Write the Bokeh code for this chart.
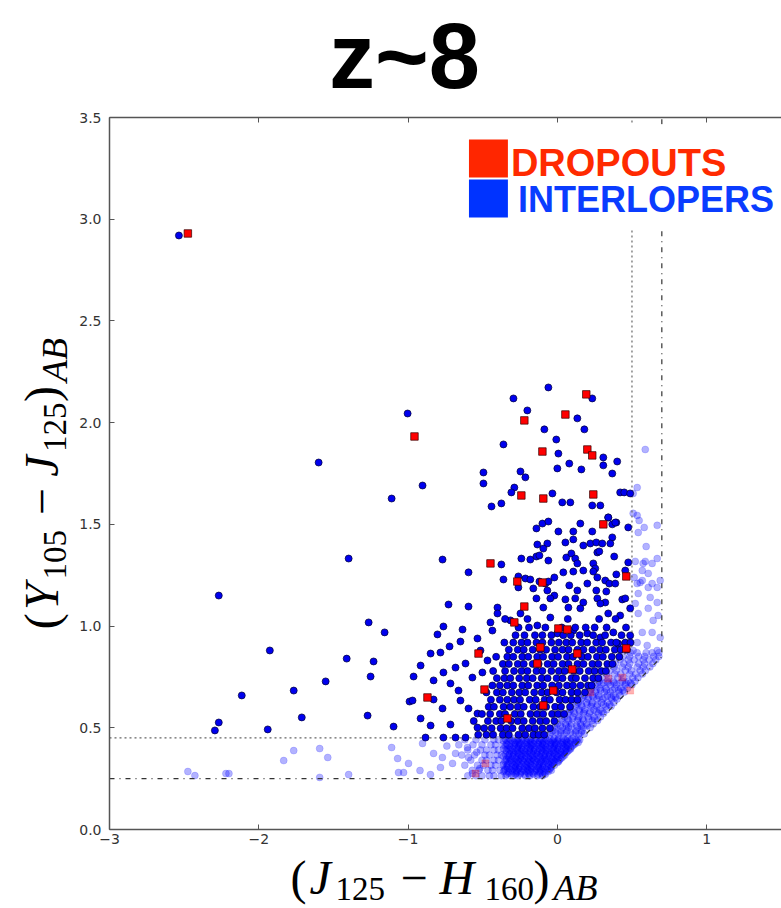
from bokeh.plotting import figure
from bokeh.models import Label, LinearAxis, BoxAnnotation, Range1d, CustomJSTickFormatter
from bokeh.layouts import column, row
from bokeh.embed import file_html
from bokeh.resources import INLINE

# ---------------- data ----------------
x_ticks = [-3, -2, -1, 0, 1]
y_ticks = [0.0, 0.5, 1.0, 1.5, 2.0, 2.5, 3.0, 3.5]

# selection boundaries
sel_x = [-3.0, -0.1, 0.5, 0.5]
sel_y = [0.45, 0.45, 0.9, 3.5]
wide_x = [-3.0, -0.1, 0.7, 0.7]
wide_y = [0.25, 0.25, 0.85, 3.5]

# selected interlopers: isolated points
inter_sparse = [(-2.535, 2.92), (-1.003, 2.045), (-1.599, 1.804), (-1.11, 1.627), (-0.903, 1.691),
                (-1.398, 1.332), (-2.268, 1.150), (-0.769, 1.327), (-1.264, 1.018), (-1.157, 0.969),
                (-1.926, 0.88), (-1.411, 0.84), (-1.231, 0.826), (-1.251, 0.752), (-1.552, 0.728),
                (-2.114, 0.659), (-1.766, 0.683), (-1.712, 0.551), (-1.271, 0.56), (-1.097, 0.506),
                (-0.99, 0.629), (-2.294, 0.487), (-2.268, 0.526), (-1.94, 0.492), (-0.595, 1.264)]
inter_upper = [(-0.06, 2.173), (-0.294, 2.119), (0.234, 2.119), (-0.201, 2.06), (0.134, 2.021),
               (-0.087, 1.967), (0.181, 1.967), (-0.007, 1.917), (-0.361, 1.893), (0.007, 1.848),
               (0.308, 1.829), (0.401, 1.809), (0.08, 1.799), (0.308, 1.79), (0.0, 1.775),
               (0.161, 1.77), (-0.495, 1.755), (-0.247, 1.76), (-0.214, 1.731), (0.368, 1.75),
               (-0.495, 1.701), (-0.288, 1.681), (-0.308, 1.657), (-0.033, 1.652), (0.421, 1.657),
               (0.448, 1.657), (0.488, 1.652), (-0.441, 1.588), (-0.375, 1.603), (0.033, 1.608),
               (0.087, 1.608), (0.234, 1.593), (0.288, 1.593), (0.341, 1.534), (0.395, 1.509),
               (0.368, 1.5)]
inter_mid = [(-0.14, 1.48), (-0.1, 1.504), (-0.06, 1.514), (0.007, 1.465), (0.107, 1.465),
             (0.154, 1.504), (0.234, 1.465), (0.341, 1.534), (0.388, 1.509), (0.368, 1.436),
             (0.475, 1.485), (-0.134, 1.401), (-0.067, 1.406), (0.054, 1.411), (0.107, 1.426),
             (0.174, 1.396), (0.221, 1.406), (0.261, 1.411), (0.301, 1.406), (0.355, 1.406),
             (-0.094, 1.381), (-0.241, 1.332), (-0.181, 1.327), (-0.14, 1.342), (-0.12, 1.347),
             (-0.06, 1.322), (0.06, 1.337), (0.094, 1.357), (0.12, 1.332), (0.134, 1.308),
             (0.174, 1.273), (0.241, 1.308), (0.254, 1.283), (0.268, 1.362), (0.281, 1.367),
             (0.381, 1.342), (0.475, 1.313), (-0.375, 1.303), (-0.361, 1.229), (-0.261, 1.244),
             (-0.214, 1.234), (-0.181, 1.229), (-0.12, 1.219), (-0.08, 1.209), (-0.06, 1.219),
             (-0.02, 1.239), (0.04, 1.264), (0.107, 1.268), (0.241, 1.268), (0.268, 1.239),
             (0.321, 1.224), (0.348, 1.209), (0.395, 1.254), (0.455, 1.273), (-0.261, 1.19),
             (-0.161, 1.185), (-0.067, 1.175), (-0.02, 1.15), (0.08, 1.2), (0.134, 1.175),
             (0.201, 1.209), (0.261, 1.175), (0.328, 1.17), (0.388, 1.209), (0.435, 1.131),
             (-0.595, 1.096), (-0.401, 1.091), (-0.14, 1.136), (-0.047, 1.136), (0.054, 1.131),
             (0.12, 1.136), (0.174, 1.116), (0.268, 1.136), (0.321, 1.116), (0.455, 1.136),
             (-0.729, 1.106), (-0.763, 0.998), (-0.635, 0.983), (-0.803, 0.959), (-0.722, 0.9),
             (-0.649, 0.924), (-0.849, 0.865), (-0.783, 0.87), (-0.916, 0.806), (-0.963, 0.752),
             (-0.763, 0.772), (-0.682, 0.796), (-0.615, 0.816), (-0.829, 0.733), (-0.716, 0.718),
             (-0.97, 0.634), (-0.829, 0.639), (-0.662, 0.683), (-0.769, 0.595), (-0.649, 0.634),
             (-0.595, 0.595), (-0.916, 0.546), (-0.849, 0.511), (-0.716, 0.516), (-0.883, 0.452),
             (-0.763, 0.452), (-0.682, 0.452), (-0.615, 0.452), (-0.535, 0.501), (-0.535, 0.570),
             (-0.569, 0.747), (-0.502, 0.772), (-0.468, 0.831), (-0.535, 0.939), (-0.515, 0.88),
             (-0.448, 1.018), (-0.435, 0.978), (-0.401, 1.062), (-0.314, 1.028), (-0.247, 1.062),
             (-0.134, 1.003), (-0.094, 1.091), (-0.047, 1.042), (0.074, 1.091), (0.154, 1.087),
             (0.288, 1.111), (0.341, 1.062), (0.421, 1.052), (0.488, 1.087), (0.0, 0.964),
             (0.107, 0.978), (0.201, 0.964), (0.288, 0.944), (0.375, 0.969), (0.408, 0.914),
             (0.488, 0.954)]
# dense core of selected interlopers, read row by row: (y, [x...])
inter_core_rows = [
    (0.466, [-0.53, -0.475, -0.43, -0.365, -0.325, -0.26, -0.215, -0.16, -0.125, -0.088]),
    (0.498, [-0.49, -0.44, -0.38, -0.34, -0.30, -0.235, -0.19, -0.15, -0.10, -0.05]),
    (0.533, [-0.56, -0.465, -0.41, -0.375, -0.31, -0.265, -0.225, -0.165, -0.115, -0.075, -0.02]),
    (0.568, [-0.505, -0.45, -0.385, -0.35, -0.285, -0.245, -0.18, -0.135, -0.095, -0.035, 0.005, 0.045]),
    (0.603, [-0.46, -0.425, -0.36, -0.315, -0.265, -0.225, -0.16, -0.115, -0.075, -0.015, 0.025, 0.085]),
    (0.638, [-0.445, -0.385, -0.335, -0.29, -0.25, -0.185, -0.145, -0.085, -0.05, 0.015, 0.055, 0.095, 0.135]),
    (0.674, [-0.475, -0.405, -0.365, -0.305, -0.255, -0.215, -0.155, -0.105, -0.065, -0.005, 0.035, 0.095, 0.135, 0.185]),
    (0.708, [-0.435, -0.385, -0.335, -0.295, -0.235, -0.195, -0.135, -0.095, -0.035, 0.01, 0.065, 0.105, 0.155, 0.205, 0.23]),
    (0.744, [-0.405, -0.355, -0.315, -0.255, -0.205, -0.165, -0.105, -0.065, -0.005, 0.035, 0.095, 0.125, 0.185, 0.24, 0.275]),
    (0.779, [-0.43, -0.35, -0.29, -0.24, -0.2, -0.14, -0.1, -0.04, 0.01, 0.05, 0.11, 0.15, 0.21, 0.25, 0.295, 0.325]),
    (0.814, [-0.365, -0.325, -0.265, -0.225, -0.165, -0.125, -0.065, -0.025, 0.035, 0.075, 0.135, 0.175, 0.235, 0.275, 0.335, 0.37]),
    (0.849, [-0.41, -0.335, -0.295, -0.235, -0.195, -0.135, -0.095, -0.035, 0.005, 0.065, 0.105, 0.165, 0.205, 0.265, 0.305, 0.365, 0.415]),
    (0.884, [-0.325, -0.265, -0.225, -0.165, -0.115, -0.075, -0.015, 0.035, 0.075, 0.135, 0.175, 0.235, 0.285, 0.325, 0.385, 0.425, 0.465]),
    (0.919, [-0.355, -0.295, -0.24, -0.2, -0.14, -0.1, -0.04, 0.01, 0.06, 0.1, 0.16, 0.2, 0.26, 0.3, 0.36, 0.395, 0.455, 0.49]),
    (0.955, [-0.28, -0.22, -0.15, -0.10, -0.04, 0.04, 0.09, 0.15, 0.24, 0.32, 0.43]),
    (0.993, [-0.26, -0.19, -0.08, 0.03, 0.12, 0.19, 0.25, 0.33, 0.46]),
    (1.035, [-0.35, -0.20, 0.07, 0.28, 0.39]),
]

# rejected (faint) interlopers
light_sparse = [(-2.475, 0.285), (-2.428, 0.265), (-2.22, 0.275), (-2.2, 0.275), (-1.833, 0.339),
                (-1.766, 0.388), (-1.592, 0.398), (-1.538, 0.354), (-1.592, 0.256), (-1.398, 0.27),
                (-1.11, 0.403), (-1.07, 0.349), (-1.064, 0.28), (-1.03, 0.28), (-0.997, 0.325),
                (-0.903, 0.423), (-0.829, 0.374), (-0.77, 0.354), (-0.783, 0.305), (-0.702, 0.325),
                (-0.682, 0.374), (-0.602, 0.403), (-0.595, 0.354), (-0.569, 0.275), (-0.52, 0.30),
                (-0.54, 0.38), (-0.92, 0.29), (-0.85, 0.27), (-0.74, 0.41)]
light_strip_rows = [
    (0.264, [-0.60, -0.545, -0.505, -0.455, -0.425, -0.375, -0.345, -0.295, -0.265, -0.215, -0.185, -0.135, -0.10]),
    (0.278, [-0.325, -0.275, -0.245, -0.195, -0.165, -0.115, -0.085]),
    (0.291, [-0.57, -0.525, -0.465, -0.435, -0.385, -0.355, -0.305, -0.275, -0.225, -0.195, -0.145, -0.115, -0.065, -0.04]),
    (0.303, [-0.335, -0.285, -0.255, -0.205, -0.175, -0.125, -0.095, -0.045]),
    (0.316, [-0.62, -0.535, -0.495, -0.445, -0.415, -0.365, -0.335, -0.285, -0.255, -0.205, -0.175, -0.125, -0.095, -0.045, -0.02]),
    (0.329, [-0.305, -0.275, -0.225, -0.195, -0.145, -0.115, -0.065, -0.035, 0.0]),
    (0.341, [-0.58, -0.505, -0.475, -0.425, -0.395, -0.345, -0.315, -0.265, -0.235, -0.185, -0.155, -0.105, -0.075, -0.025, 0.01]),
    (0.353, [-0.325, -0.275, -0.245, -0.195, -0.165, -0.115, -0.085, -0.035, -0.005, 0.03]),
    (0.366, [-0.64, -0.555, -0.485, -0.455, -0.405, -0.375, -0.325, -0.295, -0.245, -0.215, -0.165, -0.135, -0.085, -0.055, -0.005, 0.025, 0.05]),
    (0.378, [-0.295, -0.265, -0.215, -0.185, -0.135, -0.105, -0.055, -0.025, 0.025, 0.06]),
    (0.391, [-0.60, -0.515, -0.475, -0.425, -0.395, -0.345, -0.315, -0.265, -0.235, -0.185, -0.155, -0.105, -0.075, -0.025, 0.005, 0.055, 0.08]),
    (0.403, [-0.315, -0.265, -0.235, -0.185, -0.155, -0.105, -0.075, -0.025, 0.005, 0.055, 0.09]),
    (0.416, [-0.66, -0.565, -0.505, -0.445, -0.415, -0.365, -0.335, -0.285, -0.255, -0.205, -0.175, -0.125, -0.095, -0.045, -0.015, 0.035, 0.065, 0.11]),
    (0.428, [-0.285, -0.255, -0.205, -0.175, -0.125, -0.095, -0.045, -0.015, 0.035, 0.065, 0.115, 0.14]),
    (0.441, [-0.62, -0.545, -0.485, -0.425, -0.395, -0.345, -0.315, -0.265, -0.235, -0.185, -0.155, -0.105, -0.075, -0.025, 0.005, 0.055, 0.085, 0.125, 0.15]),
]
# the saturated middle of that strip
light_strip_core_rows = [
    (0.272, [-0.34, -0.31, -0.28, -0.25, -0.22, -0.19, -0.16, -0.13, -0.10, -0.08]),
    (0.285, [-0.36, -0.33, -0.30, -0.27, -0.24, -0.21, -0.18, -0.15, -0.12, -0.09, -0.06]),
    (0.297, [-0.35, -0.32, -0.29, -0.26, -0.23, -0.20, -0.17, -0.14, -0.11, -0.08, -0.05]),
    (0.309, [-0.34, -0.31, -0.28, -0.25, -0.22, -0.19, -0.16, -0.13, -0.10, -0.07, -0.04]),
    (0.322, [-0.36, -0.33, -0.30, -0.27, -0.24, -0.21, -0.18, -0.15, -0.12, -0.09, -0.06, -0.03]),
    (0.335, [-0.35, -0.32, -0.29, -0.26, -0.23, -0.20, -0.17, -0.14, -0.11, -0.08, -0.05, -0.02, 0.01]),
    (0.347, [-0.34, -0.31, -0.28, -0.25, -0.22, -0.19, -0.16, -0.13, -0.10, -0.07, -0.04, -0.01, 0.02]),
    (0.360, [-0.36, -0.33, -0.30, -0.27, -0.24, -0.21, -0.18, -0.15, -0.12, -0.09, -0.06, -0.03, 0.0, 0.04]),
    (0.372, [-0.35, -0.32, -0.29, -0.26, -0.23, -0.20, -0.17, -0.14, -0.11, -0.08, -0.05, -0.02, 0.01, 0.04]),
    (0.385, [-0.34, -0.31, -0.28, -0.25, -0.22, -0.19, -0.16, -0.13, -0.10, -0.07, -0.04, -0.01, 0.02, 0.05, 0.07]),
    (0.397, [-0.36, -0.33, -0.30, -0.27, -0.24, -0.21, -0.18, -0.15, -0.12, -0.09, -0.06, -0.03, 0.0, 0.03, 0.06, 0.09]),
    (0.410, [-0.35, -0.32, -0.29, -0.26, -0.23, -0.20, -0.17, -0.14, -0.11, -0.08, -0.05, -0.02, 0.01, 0.04, 0.07, 0.10]),
    (0.422, [-0.34, -0.31, -0.28, -0.25, -0.22, -0.19, -0.16, -0.13, -0.10, -0.07, -0.04, -0.01, 0.02, 0.05, 0.08, 0.12]),
    (0.435, [-0.36, -0.33, -0.30, -0.27, -0.24, -0.21, -0.18, -0.15, -0.12, -0.09, -0.06, -0.03, 0.0, 0.03, 0.06, 0.09, 0.13]),
    (0.447, [-0.35, -0.32, -0.29, -0.26, -0.23, -0.20, -0.17, -0.14, -0.11, -0.08, -0.05, -0.02, 0.01, 0.04, 0.07, 0.10, 0.14]),
]
light_band_rows = [
    (0.470, [-0.05, 0.005, 0.045, 0.105, 0.145, 0.18]),
    (0.478, [-0.04, -0.01, 0.02, 0.06, 0.09, 0.12, 0.16]),
    (0.485, [-0.03, 0.025, 0.065, 0.125, 0.165]),
    (0.501, [-0.02, 0.035, 0.075, 0.135, 0.175, 0.22]),
    (0.510, [-0.01, 0.02, 0.06, 0.09, 0.13, 0.16, 0.20]),
    (0.519, [0.0, 0.055, 0.095, 0.155, 0.195, 0.24]),
    (0.536, [0.03, 0.075, 0.135, 0.175, 0.235, 0.27]),
    (0.545, [0.03, 0.07, 0.10, 0.14, 0.17, 0.21, 0.25]),
    (0.554, [0.05, 0.105, 0.145, 0.205, 0.245, 0.29]),
    (0.571, [0.07, 0.115, 0.175, 0.215, 0.275, 0.31]),
    (0.580, [0.08, 0.11, 0.15, 0.18, 0.22, 0.26, 0.30]),
    (0.589, [0.09, 0.145, 0.185, 0.245, 0.285, 0.33]),
    (0.606, [0.12, 0.165, 0.225, 0.265, 0.325, 0.36]),
    (0.615, [0.13, 0.16, 0.20, 0.23, 0.27, 0.31, 0.35]),
    (0.624, [0.14, 0.195, 0.235, 0.295, 0.335, 0.38]),
    (0.641, [0.16, 0.205, 0.265, 0.305, 0.365, 0.40]),
    (0.650, [0.17, 0.21, 0.24, 0.28, 0.32, 0.36, 0.39]),
    (0.659, [0.18, 0.235, 0.275, 0.335, 0.375, 0.42]),
    (0.676, [0.21, 0.255, 0.315, 0.355, 0.415, 0.45]),
    (0.685, [0.22, 0.26, 0.29, 0.33, 0.37, 0.41, 0.44]),
    (0.694, [0.23, 0.285, 0.325, 0.385, 0.425, 0.47]),
    (0.711, [0.25, 0.295, 0.355, 0.395, 0.455, 0.50]),
    (0.720, [0.27, 0.31, 0.34, 0.38, 0.42, 0.46, 0.49]),
    (0.729, [0.28, 0.335, 0.375, 0.435, 0.475, 0.52]),
    (0.746, [0.30, 0.345, 0.405, 0.445, 0.505, 0.54]),
    (0.764, [0.33, 0.385, 0.425, 0.485, 0.525, 0.57]),
    (0.781, [0.35, 0.395, 0.455, 0.495, 0.555, 0.59]),
    (0.799, [0.38, 0.435, 0.475, 0.535, 0.575, 0.62]),
    (0.816, [0.39, 0.445, 0.485, 0.545, 0.585, 0.64]),
    (0.834, [0.42, 0.475, 0.515, 0.575, 0.615, 0.66]),
    (0.851, [0.44, 0.485, 0.545, 0.585, 0.645, 0.68]),
    (0.869, [0.49, 0.535, 0.595, 0.635, 0.68]),
]
light_column = [(0.589, 1.868), (0.535, 1.681), (0.508, 1.652), (0.508, 1.554), (0.535, 1.544),
                (0.548, 1.519), (0.582, 1.485), (0.542, 1.46), (0.669, 1.495), (0.595, 1.391),
                (0.522, 1.318), (0.589, 1.318), (0.635, 1.308), (0.669, 1.332), (0.569, 1.273),
                (0.609, 1.259), (0.515, 1.239), (0.569, 1.224), (0.635, 1.209), (0.535, 1.209),
                (0.669, 1.19), (0.575, 1.308), (0.555, 1.214), (0.609, 1.19), (0.689, 1.224),
                (0.542, 1.16), (0.622, 1.141), (0.669, 1.116), (0.522, 1.111), (0.542, 1.062),
                (0.609, 1.087), (0.642, 1.028), (0.675, 1.052), (0.569, 0.969), (0.635, 0.969),
                (0.689, 0.944), (0.535, 0.919), (0.602, 0.905), (0.669, 0.88), (0.508, 0.88)]

# dropouts
drop_dark = [(-2.475, 2.93), (-0.957, 1.932), (0.194, 2.139), (0.054, 2.04), (-0.221, 2.011),
             (-0.1, 1.858), (0.201, 1.868), (0.234, 1.839), (-0.241, 1.642), (-0.094, 1.627),
             (0.241, 1.647), (0.308, 1.5), (-0.448, 1.308), (-0.268, 1.219), (-0.1, 1.214),
             (0.462, 1.244), (-0.221, 1.096), (-0.288, 1.018), (-0.528, 0.865), (-0.87, 0.649),
             (-0.488, 0.688), (-0.334, 0.546), (0.007, 0.988), (0.067, 0.983), (-0.114, 0.895),
             (-0.134, 0.816), (0.134, 0.865), (0.1, 0.787), (0.462, 0.89), (-0.094, 0.61),
             (-0.027, 0.683)]
drop_light = [(-0.548, 0.275), (-0.482, 0.325), (0.341, 0.742), (0.435, 0.747), (0.221, 0.674),
              (0.488, 0.683)]

# ---------------- assemble ----------------
def unzip(pts):
    return [a for a, b in pts], [b for a, b in pts]

def rows(rs):
    xs, ys = [], []
    for yv, xl in rs:
        xs += xl
        ys += [yv] * len(xl)
    return xs, ys

dx, dy = unzip(inter_sparse + inter_upper + inter_mid)
cx, cy = rows(inter_core_rows)
dx += cx; dy += cy
lx, ly = unzip(light_sparse + light_column)
for rr in (light_strip_rows, light_strip_core_rows, light_band_rows):
    a, b = rows(rr)
    lx += a; ly += b
rdx, rdy = unzip(drop_dark)
rlx, rly = unzip(drop_light)

# page layout (pixels)
W, H = 781, 908
TITLE_H = 108          # title strip height
YLAB_W = 76            # y-label strip width
XLAB_TOP = 851         # x-label strip starts here
FRAME_L, FRAME_T, FRAME_B = 108, 117, 829
BASE = 0.35            # label anchor sits this many em above the baseline in this renderer

# page pixel -> data helpers (for annotation placement in the main plot)
X0, SX = 556.5, 149.5
Y0, SY = 829.0, 203.4
def px(xp): return (xp - X0) / SX
def py(yp): return (Y0 - yp) / SY

main_w = W - YLAB_W
main_h = XLAB_TOP - TITLE_H
x_end = -3 + (W - FRAME_L) / SX

p = figure(width=main_w, height=main_h, x_range=Range1d(-3, x_end), y_range=Range1d(0, 3.5),
           output_backend="svg", toolbar_location=None, title=None,
           min_border_left=FRAME_L - YLAB_W, min_border_right=0,
           min_border_top=FRAME_T - TITLE_H, min_border_bottom=XLAB_TOP - FRAME_B)
p.outline_line_color = None
p.xgrid.visible = False
p.ygrid.visible = False

for ax in [p.xaxis[0], p.yaxis[0]]:
    ax.axis_line_color = "#555555"
    ax.axis_line_width = 1.5
    ax.major_tick_in = 5
    ax.major_tick_out = 0
    ax.major_tick_line_color = "#555555"
    ax.minor_tick_line_color = None
    ax.major_label_text_font = "DejaVu Sans"
    ax.major_label_text_font_size = "14px"
    ax.major_label_text_color = "#333333"
p.xaxis[0].ticker = x_ticks
p.yaxis[0].ticker = y_ticks
p.xaxis[0].major_label_standoff = 4
p.yaxis[0].major_label_standoff = 8
p.xaxis[0].formatter = CustomJSTickFormatter(code="return tick < 0 ? '\u2212' + Math.abs(tick) : String(tick);")
p.yaxis[0].formatter = CustomJSTickFormatter(code="return tick.toFixed(1);")

top = LinearAxis(ticker=x_ticks, axis_line_color="#555555", axis_line_width=1.5,
                 major_tick_in=5, major_tick_out=0, major_tick_line_color="#555555",
                 minor_tick_line_color=None, major_label_text_alpha=0.0,
                 major_label_text_font_size="1px", major_label_standoff=0)
p.add_layout(top, "above")

# faint points
p.scatter(lx, ly, marker="circle", size=7, fill_color="#0000ff", fill_alpha=0.3,
          line_color="#0000ff", line_alpha=0.15)
p.scatter(rlx, rly, marker="square", size=7, fill_color="#ff0000", fill_alpha=0.3,
          line_color="#ff0000", line_alpha=0.15)

# selection boundaries
p.line(sel_x, sel_y, line_color="#666666", line_width=1.2, line_dash="2 3")
p.line(wide_x, wide_y, line_color="#333333", line_width=1.2, line_dash="5 5 1 5")

# selected points
p.scatter(dx, dy, marker="circle", size=7, fill_color="#0000ee", line_color="#000033",
          line_width=0.7)
p.scatter(rdx, rdy, marker="square", size=7.5, fill_color="#ff0000", line_color="#330000",
          line_width=0.7)

# legend (pasted-on look)
p.add_layout(BoxAnnotation(left=px(462), right=x_end + 0.1, bottom=py(228), top=py(124),
                           fill_color="white", fill_alpha=1.0, line_color=None))
p.add_layout(BoxAnnotation(left=px(468), right=px(507), bottom=py(177), top=py(139),
                           fill_color="#ff2600", fill_alpha=1.0, line_color=None))
p.add_layout(BoxAnnotation(left=px(468), right=px(507), bottom=py(217), top=py(179),
                           fill_color="#0033ff", fill_alpha=1.0, line_color=None))
p.add_layout(Label(x=px(510), y=py(176 - BASE * 38), text="DROPOUTS", text_font="Liberation Sans",
                   text_font_style="bold", text_font_size="38px", text_color="#ff2a00",
                   text_baseline="alphabetic"))
p.add_layout(Label(x=px(517), y=py(212 - BASE * 36), text="INTERLOPERS", text_font="Liberation Sans",
                   text_font_style="bold", text_font_size="36px", text_color="#0a3cff",
                   text_baseline="alphabetic"))

# ---------------- text strips (title, axis labels) ----------------
def strip(w, h):
    f = figure(width=w, height=h, x_range=Range1d(0, w), y_range=Range1d(h, 0),
               output_backend="svg", toolbar_location=None, title=None, min_border=0,
               x_axis_type=None, y_axis_type=None)
    f.outline_line_color = None
    return f

tfig = strip(W, TITLE_H)
tfig.add_layout(Label(x=404, y=88 - BASE * 92, text="z~8", text_font="Liberation Sans",
                      text_font_style="bold", text_font_size="92px", text_color="black",
                      text_align="center", text_baseline="alphabetic"))

xfig = strip(W, H - XLAB_TOP)
xlab = [("(", 290, 894, 48, "normal"), ("J", 309, 894, 48, "italic"), ("125", 335, 900, 33, "normal"),
        ("\u2212", 400, 894, 48, "normal"), ("H", 439, 894, 48, "italic"), ("160", 484, 900, 33, "normal"),
        (")", 533, 894, 48, "normal"), ("AB", 553, 900, 36, "italic")]
for t, xp, yp, fs, st in xlab:
    xfig.add_layout(Label(x=xp, y=yp - XLAB_TOP - BASE * fs, text=t, text_font="Liberation Serif",
                          text_font_style=st, text_font_size=f"{fs}px", text_color="black",
                          text_baseline="alphabetic", text_align="left"))

yfig = strip(YLAB_W, XLAB_TOP - TITLE_H)
ylab = [("(", 58, 642, 48, "normal"), ("Y", 58, 622, 48, "italic"), ("105", 66, 590, 33, "normal"),
        ("\u2212", 58, 523, 48, "normal"), ("J", 58, 483, 48, "italic"), ("125", 66, 457, 33, "normal"),
        (")", 58, 405, 48, "normal"), ("AB", 67, 384, 36, "italic")]
for t, xp, yp, fs, st in ylab:
    yfig.add_layout(Label(x=xp - BASE * fs, y=yp - TITLE_H, text=t, angle=1.5707963,
                          text_font="Liberation Serif", text_font_style=st,
                          text_font_size=f"{fs}px", text_color="black",
                          text_baseline="alphabetic", text_align="left"))

layout = column(tfig, row(yfig, p, spacing=0), xfig, spacing=0)
open("out.html", "w").write(file_html(layout, INLINE))
